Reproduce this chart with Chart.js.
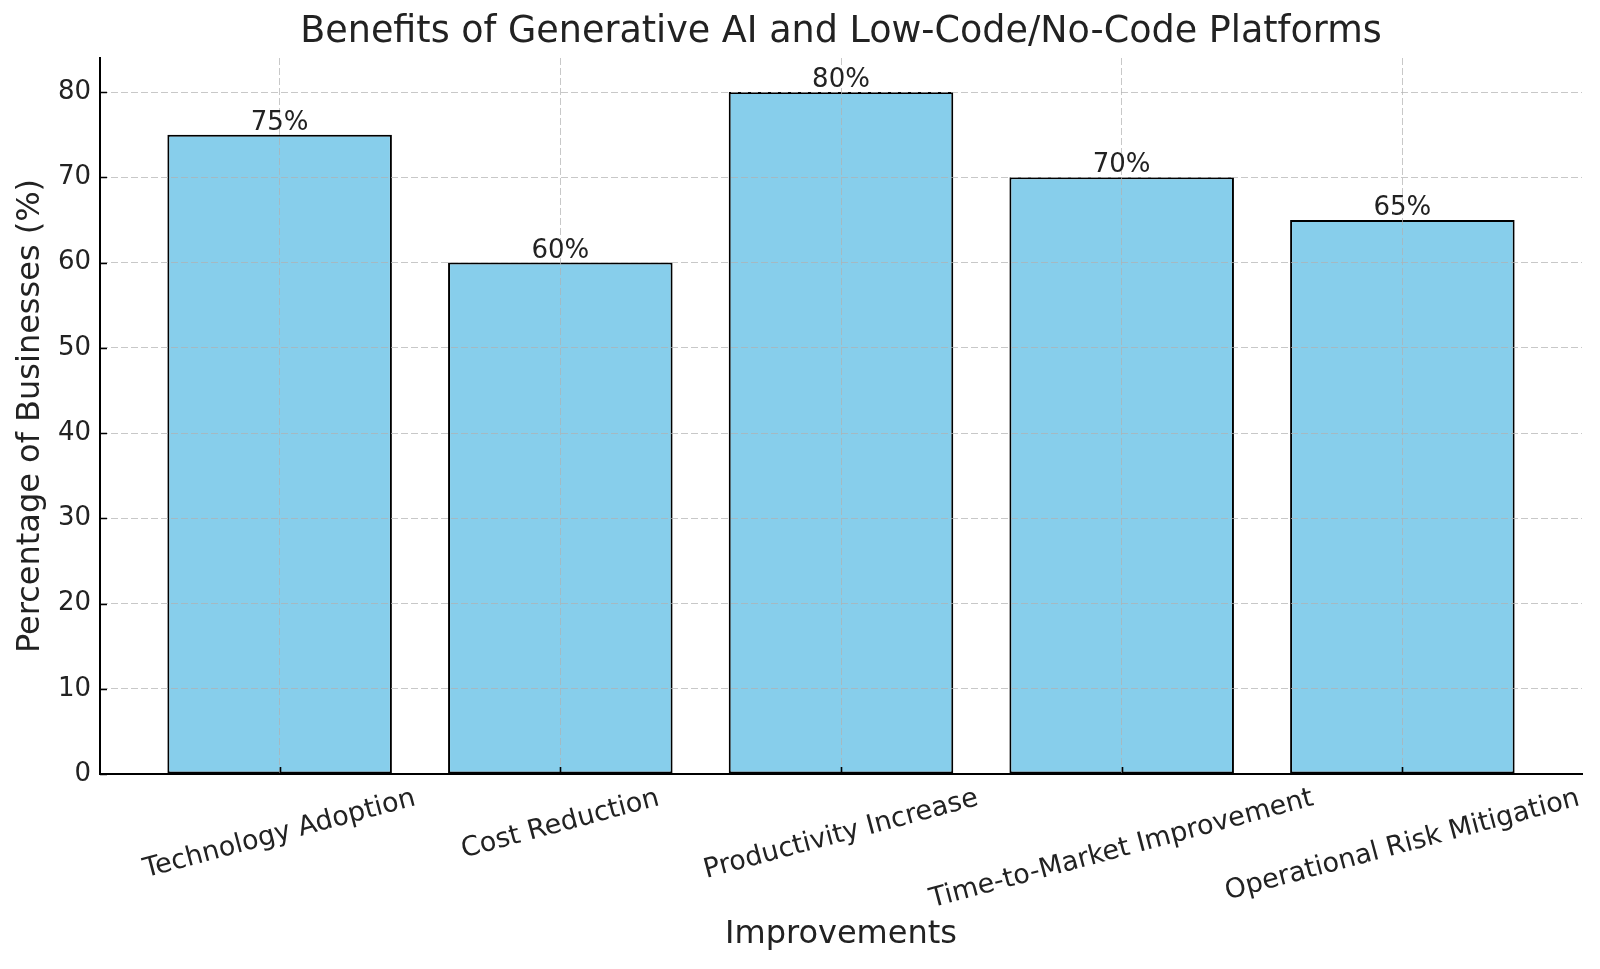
<!DOCTYPE html>
<html>
<head>
<meta charset="utf-8">
<title>Benefits of Generative AI and Low-Code/No-Code Platforms</title>
<script src="https://cdn.jsdelivr.net/npm/chart.js@4.4.1/dist/chart.umd.min.js"></script>
<style>
  html, body { margin: 0; padding: 0; background: #fff; }
  #wrap { width: 1600px; height: 969px; }
</style>
</head>
<body>
<div id="wrap"><canvas id="benefitsChart"></canvas></div>
<script>
const chartTitle = 'Benefits of Generative AI and Low-Code/No-Code Platforms';
const categories = ['Technology Adoption', 'Cost Reduction', 'Productivity Increase', 'Time-to-Market Improvement', 'Operational Risk Mitigation'];
const percentages = [75, 60, 80, 70, 65];
const yTicks = [0, 10, 20, 30, 40, 50, 60, 70, 80];

const textColor = '#222';
const fontFamily = '"DejaVu Sans", sans-serif';
const gridColor = 'rgba(176, 176, 176, 0.7)';

// title, inward ticks, value labels and rotated category labels
const annotate = {
    id: 'annotate',
    afterDraw(chart) {
        const { ctx, chartArea: area, scales: { x, y } } = chart;
        ctx.save();
        ctx.fillStyle = textColor;

        ctx.font = '36.5px ' + fontFamily;
        ctx.textAlign = 'center';
        ctx.textBaseline = 'middle';
        ctx.fillText(chartTitle, (area.left + area.right) / 2, 33);

        ctx.strokeStyle = '#000';
        ctx.lineWidth = 1.6;
        ctx.beginPath();
        yTicks.forEach(v => {
            const py = Math.round(y.getPixelForValue(v)) + 0.5;
            ctx.moveTo(area.left, py);
            ctx.lineTo(area.left + 7, py);
        });
        categories.forEach((c, i) => {
            const px = Math.round(x.getPixelForValue(i)) + 0.5;
            ctx.moveTo(px, area.bottom);
            ctx.lineTo(px, area.bottom - 7);
        });
        ctx.stroke();

        ctx.font = '26px ' + fontFamily;
        ctx.textBaseline = 'alphabetic';
        chart.getDatasetMeta(0).data.forEach((bar, i) => {
            ctx.fillText(percentages[i] + '%', bar.x, bar.y - 5);
        });

        const ang = 15 * Math.PI / 180;
        ctx.font = '27px ' + fontFamily;
        ctx.textBaseline = 'middle';
        categories.forEach((c, i) => {
            const w = ctx.measureText(c).width;
            const boxH = w * Math.sin(ang) + 27 * Math.cos(ang);
            ctx.save();
            ctx.translate(x.getPixelForValue(i), area.bottom + 11 + boxH / 2);
            ctx.rotate(-ang);
            ctx.fillText(c, 0, 0);
            ctx.restore();
        });
        ctx.restore();
    }
};

const ctx = document.getElementById('benefitsChart').getContext('2d');

new Chart(ctx, {
    type: 'bar',
    data: {
        datasets: [{
            data: categories.map((c, i) => ({ x: i, y: percentages[i] })),
            backgroundColor: '#87CEEB',
            borderColor: '#000',
            borderWidth: 2,
            borderSkipped: false,
            categoryPercentage: 1,
            barPercentage: 0.8
        }]
    },
    options: {
        responsive: true,
        maintainAspectRatio: false,
        animation: false,
        layout: { padding: { top: 58, right: 18, left: 0, bottom: 0 } },
        plugins: {
            legend: { display: false },
            tooltip: { enabled: false }
        },
        scales: {
            x: {
                type: 'linear',
                min: -0.64,
                max: 4.64,
                offset: false,
                afterBuildTicks: s => { s.ticks = categories.map((c, i) => ({ value: i })); },
                afterFit: s => { s.height = 195; s.paddingLeft = 0; s.paddingRight = 0; },
                ticks: { display: false },
                grid: { offset: false, color: gridColor, lineWidth: 1, drawTicks: false, z: 1 },
                border: { color: '#000', width: 2, dash: [7, 3], z: 2 },
                title: {
                    display: true,
                    text: 'Improvements',
                    color: textColor,
                    font: { family: fontFamily, size: 32 },
                    padding: { top: 0, bottom: 15 }
                }
            },
            y: {
                min: 0,
                max: 84,
                afterBuildTicks: s => { s.ticks = yTicks.map(v => ({ value: v })); },
                afterFit: s => { s.width = 100; s.paddingTop = 0; s.paddingBottom = 0; },
                ticks: { color: textColor, font: { family: fontFamily, size: 26 }, padding: 9 },
                grid: { color: gridColor, lineWidth: 1, drawTicks: false, z: 1 },
                border: { color: '#000', width: 2, dash: [7, 3], z: 2 },
                title: {
                    display: true,
                    text: 'Percentage of Businesses (%)',
                    color: textColor,
                    font: { family: fontFamily, size: 32 },
                    padding: { top: 11, bottom: 0 }
                }
            }
        }
    },
    plugins: [annotate]
});
</script>
</body>
</html>
